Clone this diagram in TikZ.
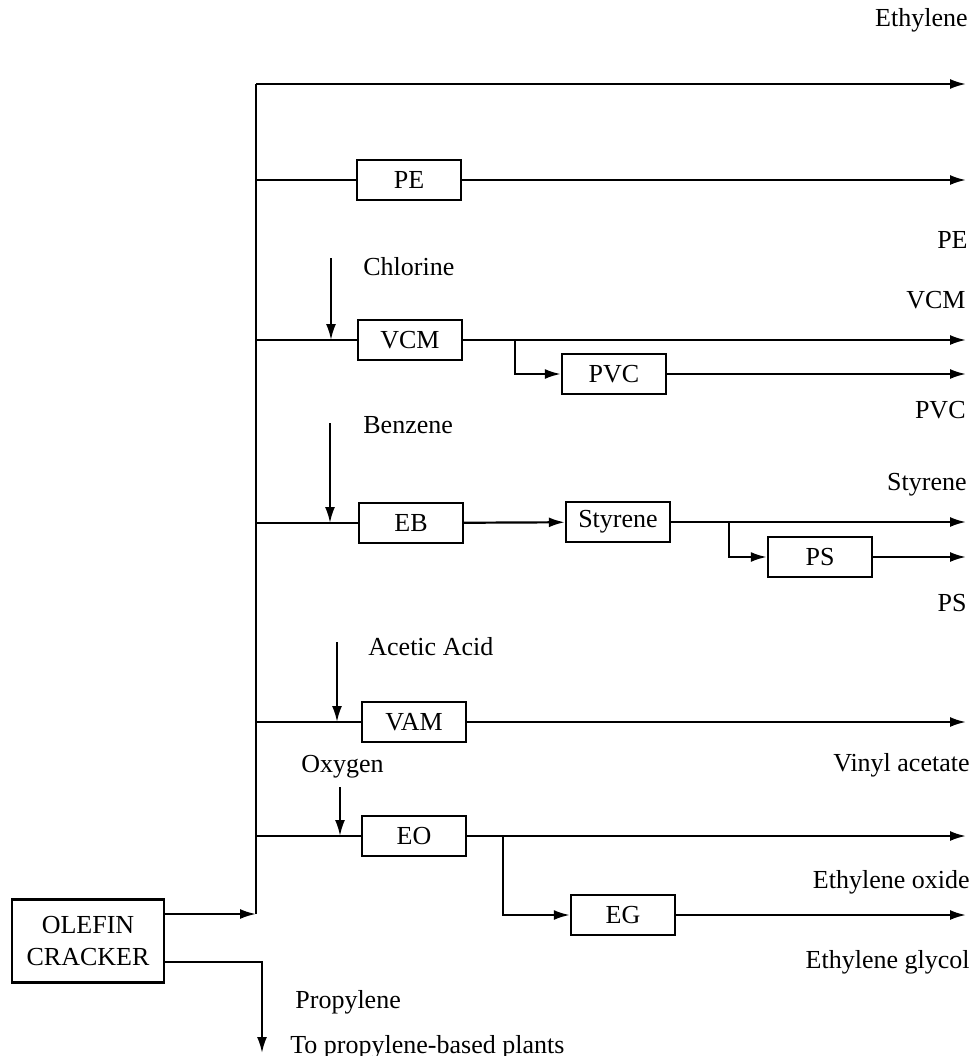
\documentclass[tikz,border=0pt]{standalone}
\usepackage{fontspec}
\setmainfont{Liberation Serif}
\usetikzlibrary{positioning,calc}
\usetikzlibrary{arrows.meta}
\tikzset{
	unit/.style={draw=black,line width=1.2pt,fill=white,minimum width=52pt,minimum height=20pt,inner sep=2pt},
	flow/.style={draw=black,line width=1.1pt},
	feed/.style={flow,-{Latex[length=8pt,width=5pt]}},
	tag/.style={inner sep=0pt},
}

\begin{document}
\begin{tikzpicture}[x=0.5pt,y=-0.5pt,font=\fontsize{13}{16}\selectfont]
			\useasboundingbox (0,0) rectangle (975,1056);
			% header line and right rim
			\coordinate (top) at (256,84);
			\coordinate (bot) at (256,914);
			\coordinate (rim) at (966,0);
			\draw[flow] (bot) -- (top);
			% process units
			\node[unit] (pe) at (409,180) {PE};
			\node[unit] (vcm) at (410,340) {VCM};
			\node[unit] (pvc) at (614,374) {PVC};
			\node[unit] (eb) at (411,523) {EB};
			\node[unit] (sty) at (618,522) {Styrene};
			\node[unit] (ps) at (820,557) {PS};
			\node[unit] (vam) at (414,722) {VAM};
			\node[unit] (eo) at (414,836) {EO};
			\node[unit] (eg) at (623,915) {EG};
			\node[unit,minimum width=76pt,minimum height=41.5pt,align=center] (olefin) at (88,941) {OLEFIN\\CRACKER};
			% ethylene to each unit
			\draw[feed] (top) -- (top -| rim);
			\foreach \u in {pe,vcm,eb,vam,eo}
			\draw[flow] (top |- \u) -- (\u);
			% products
			\foreach \u in {pe,vcm,pvc,sty,ps,vam,eo,eg}
			\draw[feed] (\u) -- (\u -| rim);
			\draw[feed] (eb) -- (sty);
			\coordinate (vcmj) at (515,340);
			\coordinate (styj) at (729,522);
			\coordinate (eoj) at (503,836);
			\draw[feed] (vcmj) |- (pvc);
			\draw[feed] (styj) |- (ps);
			\draw[feed] (eoj) |- (eg);
			% side feeds
			\coordinate (cl) at (331,258);
			\coordinate (bz) at (330,423);
			\coordinate (aa) at (337,642);
			\coordinate (ox) at (340,787);
			\draw[feed] (cl) -- (cl |- vcm);
			\draw[feed] (bz) -- (bz |- eb);
			\draw[feed] (aa) -- (aa |- vam);
			\draw[feed] (ox) -- (ox |- eo);
			% cracker outlets
			\coordinate (propturn) at (262,962);
			\coordinate (prop) at (262,1053);
			\draw[feed] (olefin.east |- bot) -- (bot);
			\draw[feed] (olefin.east |- propturn) -- (propturn) -- (prop);
			% labels
			\node[tag,anchor=east] (l-eth) at (968,20) {Ethylene};
			\node[tag,anchor=east] (l-pe) at (968,240) {PE};
			\node[tag,anchor=east] (l-vcm) at (966,300) {VCM};
			\node[tag,anchor=east] (l-pvc) at (966,410) {PVC};
			\node[tag,anchor=east] (l-sty) at (967,485) {Styrene};
			\node[tag,anchor=east] (l-ps) at (967,603) {PS};
			\node[tag,anchor=east] (l-va) at (970,765) {Vinyl acetate};
			\node[tag,anchor=east] (l-eo) at (970,882) {Ethylene oxide};
			\node[tag,anchor=east] (l-eg) at (970,962) {Ethylene glycol};
			\node[tag,anchor=west] (l-cl) at (363,267) {Chlorine};
			\node[tag,anchor=west] (l-bz) at (363,425) {Benzene};
			\node[tag,anchor=west] (l-aa) at (368,647) {Acetic Acid};
			\node[tag,anchor=west] (l-ox) at (301,767) {Oxygen};
			\node[tag,anchor=west] (l-prop) at (295,1002) {Propylene};
			\node[tag,anchor=west] (l-plants) at (290,1047) {To propylene-based plants};
		\end{tikzpicture}
\end{document}
